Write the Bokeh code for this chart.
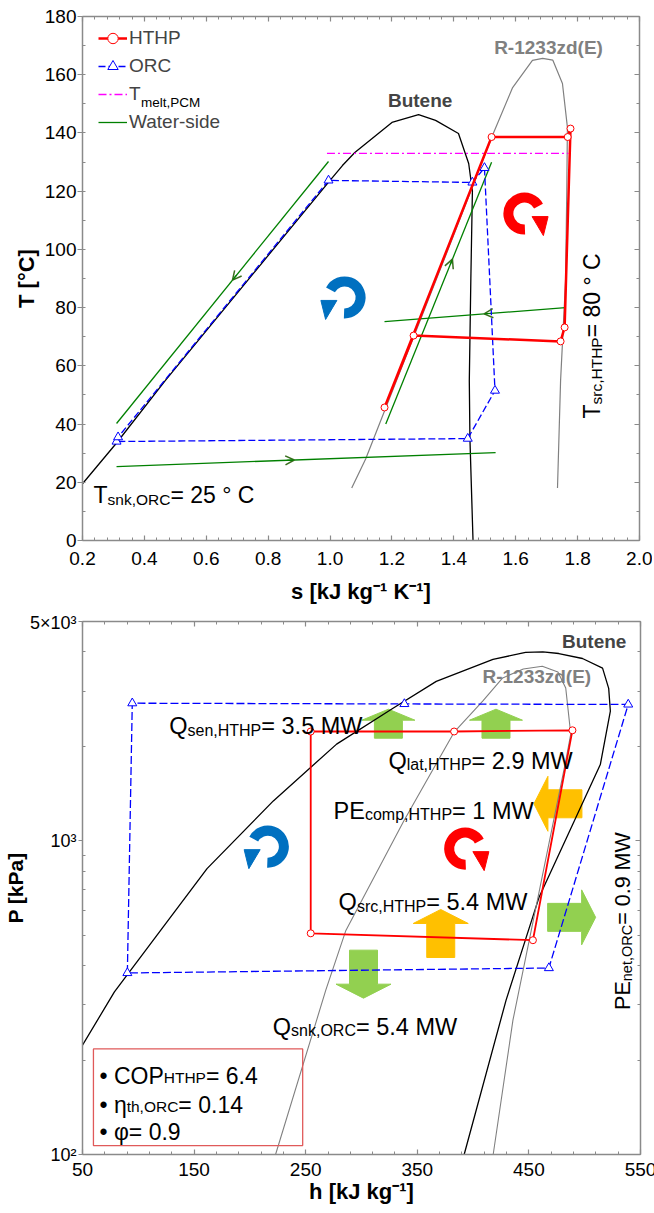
import math
from bokeh.plotting import figure
from bokeh.models import (LinearAxis, LogAxis, FixedTicker, Label, Legend, LegendItem,
                          Arrow, OpenHead, BoxAnnotation, PrintfTickFormatter,
                          CustomJSTickFormatter)
from bokeh.layouts import column
from bokeh.embed import file_html
from bokeh.resources import INLINE

FONT = "Liberation Sans"

# ------------------------------------------------------------------ T-s data
ts_butene_s = [0.20, 0.31, 0.468, 0.70, 1.00, 1.04, 1.08, 1.20, 1.286, 1.341, 1.415, 1.448, 1.46, 1.455, 1.45, 1.452, 1.462]
ts_butene_T = [19.5, 33.5, 55.0, 85.0, 123.7, 128.8, 133.3, 143.6, 146.3, 144.3, 139.8, 129.5, 120.0, 90.0, 55.0, 35.0, 0.0]

ts_r1233_s = [1.07, 1.115, 1.176, 1.30, 1.40, 1.522, 1.59, 1.654, 1.687, 1.72, 1.751, 1.767, 1.765, 1.761, 1.745, 1.735]
ts_r1233_T = [18.0, 28.0, 44.5, 78.0, 105.0, 138.4, 155.6, 164.9, 165.6, 165.0, 157.0, 142.0, 120.0, 89.0, 55.0, 18.0]

ts_hthp_s = [1.176, 1.27, 1.745, 1.758, 1.777, 1.768, 1.522, 1.176]
ts_hthp_T = [45.7, 70.4, 68.4, 73.2, 141.5, 138.6, 138.6, 45.7]

ts_orc_s = [0.31, 0.315, 0.995, 1.46, 1.499, 1.533, 1.445, 0.31]
ts_orc_T = [34.0, 35.5, 123.7, 123.0, 128.0, 51.5, 35.0, 34.0]

ts_tmelt_s = [0.99, 1.77]
ts_tmelt_T = [133.0, 133.0]

# water-side streams: ORC source, ORC sink, HTHP sink, HTHP source
ts_water_s = [[0.31, 0.995], [0.31, 1.535], [1.18, 1.522], [1.176, 1.761]]
ts_water_T = [[40.2, 130.2], [25.4, 30.2], [40.0, 129.9], [75.2, 80.0]]
ts_water_arrow_frac = [0.547, 0.469, 0.63, 0.55]
ts_water_arrow_dir = [-1, 1, 1, -1]

ts_xticks = [0.2, 0.4, 0.6, 0.8, 1.0, 1.2, 1.4, 1.6, 1.8, 2.0]
ts_yticks = [0, 20, 40, 60, 80, 100, 120, 140, 160, 180]

# ------------------------------------------------------------------ P-h data
ph_butene_h = [50, 78.6, 120, 161.6, 221, 277.7, 328.6, 367, 417.8, 447, 462.5, 476.8, 498, 516, 521.5, 523, 514, 492, 459, 429.5, 392]
ph_butene_P = [223, 330, 518, 815, 1340, 2033, 2650, 3221, 3786, 3985, 4000, 3953, 3811, 3550, 3061, 2589, 1750, 1184, 659, 310, 100]

ph_r1233_h = [223, 268, 286, 338, 383, 408.6, 426.5, 445, 462, 476, 483, 487.5, 483, 459.6, 435.7, 418]
ph_r1233_P = [100, 334, 518, 1159, 2219, 2787, 3304, 3530, 3600, 3450, 3069, 2188, 1795, 700, 268, 100]

ph_hthp_h = [254.5, 254.5, 383, 489, 453.6, 254.5]
ph_hthp_P = [507, 2230, 2230, 2250, 482, 507]

ph_orc_h = [90.2, 94.6, 338.4, 539, 467.9, 90.2]
ph_orc_P = [379, 2745, 2730, 2720, 393, 379]

# heat / power flow arrows (tip position, direction, kind)
flow_h = [324.1, 420.5, 454.5, 371.0, 509.8, 301.8]
flow_P = [2627, 2627, 1312, 604, 570, 315]
flow_dir = ["up", "up", "left", "up", "right", "down"]
flow_kind = ["heat", "heat", "work", "work", "heat", "heat"]

ph_xticks = [50, 150, 250, 350, 450, 550]
ph_yticks = [100, 1000, 5000]
ph_ytick_labels = {100: "10²", 1000: "10³", 5000: "5×10³"}

# ------------------------------------------------------------------ styles
RED = "#FF0000"
BLUE = "#0000FF"
GREEN = "#008000"
ARROW_GREEN = "#3a6e1e"
MAGENTA = "#FF00FF"
GRAY = "#808080"
ROT_BLUE = "#0070C0"
FILL_GREEN = "#92D050"
FILL_ORANGE = "#FFC000"
AXIS_GRAY = "#8a8a8a"
BOX_RED = "#E05A5A"

# Arial / Liberation Sans advance widths (per 1000 em)
_W = {' ': 278, ',': 278, '.': 278, '-': 333, '=': 584, '°': 400, '•': 350, '(': 333, ')': 333,
      'A': 667, 'B': 667, 'C': 722, 'D': 722, 'E': 667, 'F': 611, 'G': 778, 'H': 722, 'I': 278,
      'J': 500, 'K': 667, 'L': 556, 'M': 833, 'N': 722, 'O': 778, 'P': 667, 'Q': 778, 'R': 722,
      'S': 667, 'T': 611, 'U': 722, 'V': 667, 'W': 944,
      'a': 556, 'b': 556, 'c': 500, 'd': 556, 'e': 556, 'f': 278, 'g': 556, 'h': 556, 'i': 222,
      'j': 222, 'k': 500, 'l': 222, 'm': 833, 'n': 556, 'o': 556, 'p': 556, 'q': 556, 'r': 333,
      's': 500, 't': 278, 'u': 556, 'v': 500, 'w': 722, 'x': 500, 'y': 500, 'z': 500,
      'η': 556, 'φ': 650}


def tw(text, size):
    return sum(_W.get(c, 556) for c in text) * size / 1000.0


def rich(p, x, y, parts, angle=0.0, color="black", x_units="data", y_units="data"):
    off = 0.0
    for text, size, shift in parts:
        if angle == 0:
            xo, yo = off, -shift
        else:
            xo, yo = shift, off
        p.add_layout(Label(x=x, y=y, x_units=x_units, y_units=y_units, text=text,
                           x_offset=xo, y_offset=yo, angle=angle, text_font=FONT,
                           text_font_size=f"{size}px", text_color=color,
                           text_baseline="alphabetic", text_align="left"))
        off += tw(text, size)


def style_axis(ax, tick_out, tick_in, minor_out, minor_in, labels=True, standoff=0, size="19px"):
    ax.axis_line_color = AXIS_GRAY
    ax.axis_line_width = 1.5
    ax.major_tick_line_color = AXIS_GRAY
    ax.minor_tick_line_color = AXIS_GRAY
    ax.major_tick_line_width = 1.2
    ax.minor_tick_line_width = 1.0
    ax.major_tick_out = tick_out
    ax.major_tick_in = tick_in
    ax.minor_tick_out = minor_out
    ax.minor_tick_in = minor_in
    ax.major_label_standoff = standoff
    ax.major_label_text_font = FONT
    ax.major_label_text_color = "black"
    if labels:
        ax.major_label_text_font_size = size
    else:
        ax.major_label_text_font_size = "0px"
        ax.formatter = CustomJSTickFormatter(code="return '';")
    ax.axis_label_text_font = FONT
    ax.axis_label_text_font_style = "bold"
    ax.axis_label_text_font_size = "22px"
    ax.axis_label_text_color = "black"


# =================================================================== T-s plot
FW1, FH1 = 557, 524
p1 = figure(frame_width=FW1, frame_height=FH1, x_range=(0.2, 2.0), y_range=(0, 180),
            output_backend="svg", toolbar_location=None,
            min_border_left=77, min_border_right=18, min_border_top=16, min_border_bottom=72)
p1.xgrid.visible = False
p1.ygrid.visible = False
p1.outline_line_color = None
p1.background_fill_color = "white"
p1.border_fill_color = "white"

TS_SX = 1.8 / FW1
TS_TY = 180.0 / FH1


def ts_off(s, T, dx, dy):
    return s + dx * TS_SX, T + dy * TS_TY


xt1 = FixedTicker(ticks=ts_xticks, minor_ticks=[round(0.2 + 0.04 * k, 3) for k in range(46)])
yt1 = FixedTicker(ticks=ts_yticks, minor_ticks=list(range(0, 181, 10)))
p1.xaxis[0].ticker = xt1
p1.yaxis[0].ticker = yt1
p1.xaxis[0].formatter = PrintfTickFormatter(format="%.1f")
p1.xaxis[0].axis_label = "s [kJ kg⁻¹ K⁻¹]"
p1.yaxis[0].axis_label = "T [°C]"
style_axis(p1.xaxis[0], 0, 5, 0, 3, standoff=11)
style_axis(p1.yaxis[0], 5, 0, 0, 3, standoff=1)
p1.xaxis[0].axis_label_standoff = 11
p1.yaxis[0].axis_label_standoff = 3
ax_top1 = LinearAxis(ticker=FixedTicker(ticks=ts_xticks, minor_ticks=xt1.minor_ticks))
ax_right1 = LinearAxis(ticker=FixedTicker(ticks=ts_yticks, minor_ticks=yt1.minor_ticks))
style_axis(ax_top1, 0, 5, 0, 3, labels=False)
style_axis(ax_right1, 0, 5, 0, 3, labels=False)
p1.add_layout(ax_top1, "above")
p1.add_layout(ax_right1, "right")

# saturation domes
p1.line(ts_butene_s, ts_butene_T, line_color="black", line_width=1.3)
p1.line(ts_r1233_s, ts_r1233_T, line_color=GRAY, line_width=1.2)

# water side
water_renderers = []
for xs, ys, frac, d in zip(ts_water_s, ts_water_T, ts_water_arrow_frac, ts_water_arrow_dir):
    r = p1.line(xs, ys, line_color=GREEN, line_width=1.3)
    water_renderers.append(r)
    xm = xs[0] + frac * (xs[1] - xs[0])
    ym = ys[0] + frac * (ys[1] - ys[0])
    back = 0.02 * d
    xb = xm - back * (xs[1] - xs[0])
    yb = ym - back * (ys[1] - ys[0])
    p1.add_layout(Arrow(end=OpenHead(size=9, line_color=ARROW_GREEN, line_width=1.5),
                        x_start=xb, y_start=yb, x_end=xm, y_end=ym,
                        line_color=GREEN, line_width=1.3))

# T melt PCM
r_tm = p1.line(ts_tmelt_s, ts_tmelt_T, line_color=MAGENTA, line_width=1.3, line_dash="8 3 2 3")

# ORC
r_orc_l = p1.line(ts_orc_s, ts_orc_T, line_color=BLUE, line_width=1.3, line_dash="7 3")
r_orc_m = p1.scatter(ts_orc_s[:-1], ts_orc_T[:-1], marker="triangle", size=9,
                     fill_color="white", line_color=BLUE, line_width=1)
# HTHP
r_hthp_l = p1.line(ts_hthp_s, ts_hthp_T, line_color=RED, line_width=2.5)
r_hthp_m = p1.scatter(ts_hthp_s[:-1], ts_hthp_T[:-1], marker="circle", size=7,
                      fill_color="white", line_color=RED, line_width=1)

LEG_TOP = 8.5          # legend top, px below the frame top
LEG_ITEM = 26
LEG_GAP = 2
leg_h = 4 * LEG_ITEM + 3 * LEG_GAP
legend1 = Legend(items=[LegendItem(label="HTHP", renderers=[r_hthp_l, r_hthp_m]),
                        LegendItem(label="ORC", renderers=[r_orc_l, r_orc_m]),
                        LegendItem(label="T", renderers=[r_tm]),
                        LegendItem(label="Water-side", renderers=[water_renderers[0]])],
                 location=(16, FH1 - LEG_TOP - leg_h), glyph_width=29, glyph_height=LEG_ITEM,
                 label_height=LEG_ITEM, label_standoff=2, spacing=LEG_GAP, padding=0, margin=0,
                 border_line_color=None, background_fill_alpha=0,
                 label_text_font=FONT, label_text_font_size="19px")
p1.add_layout(legend1)
tm_center = LEG_TOP + LEG_ITEM / 2 + 2 * (LEG_ITEM + LEG_GAP)
rich(p1, 16 + 29 + 2 + tw("T", 19), FH1 - (tm_center + 5.9 + 3), [("melt,PCM", 13.5, 0)],
     x_units="screen", y_units="screen")


def rot_symbol(p, x, y, clockwise, color, off):
    if clockwise:
        a0, a1 = 28, 272
        head = [(7.7, -3), (23.7, -3), (19, -22)]
    else:
        a0, a1 = -92, 152
        head = [(-7.7, -3), (-23.7, -3), (-19, -22)]
    p.annular_wedge(x=[x], y=[y], inner_radius=11, outer_radius=21,
                    inner_radius_units="screen", outer_radius_units="screen",
                    start_angle=math.radians(a0), end_angle=math.radians(a1),
                    fill_color=color, line_color=None)
    pts = [off(x, y, dx, dy) for dx, dy in head]
    p.patch([q[0] for q in pts], [q[1] for q in pts], fill_color=color, line_color=color)


rot_symbol(p1, 1.047, 83.5, False, ROT_BLUE, ts_off)
rot_symbol(p1, 1.628, 112.3, True, RED, ts_off)

p1.add_layout(Label(x=1.291, y=151.1, text="Butene", text_font=FONT, text_font_style="bold",
                    text_font_size="19px", text_align="center", text_baseline="middle"))
p1.add_layout(Label(x=1.706, y=169.4, text="R-1233zd(E)", text_font=FONT, text_font_style="bold",
                    text_font_size="19px", text_align="center", text_baseline="middle",
                    text_color=GRAY))
rich(p1, 0.2355, 15.5, [("T", 23, 0), ("snk,ORC", 15.5, 4), ("= 25 ° C", 23, 0)])
rich(p1, 1.848, 41.9, [("T", 23, 0), ("src,HTHP", 15.5, 4), ("= 80 ° C", 23, 0)], angle=math.pi / 2)

# =================================================================== P-h plot
FW2, FH2 = 558, 533
p2 = figure(frame_width=FW2, frame_height=FH2, x_range=(50, 550), y_range=(100, 5000),
            y_axis_type="log", output_backend="svg", toolbar_location=None,
            min_border_left=77, min_border_right=17, min_border_top=9, min_border_bottom=56)
p2.xgrid.visible = False
p2.ygrid.visible = False
p2.outline_line_color = None
p2.background_fill_color = "white"
p2.border_fill_color = "white"

PH_HX = 500.0 / FW2
PH_LY = math.log10(50.0) / FH2


def ph_off(h, P, dx, dy):
    return h + dx * PH_HX, 10 ** (math.log10(P) + dy * PH_LY)


xt2 = FixedTicker(ticks=ph_xticks, minor_ticks=list(range(50, 551, 20)))
yminor = [200, 300, 400, 500, 600, 700, 800, 900, 2000, 3000, 4000]
yt2 = FixedTicker(ticks=ph_yticks, minor_ticks=yminor)
p2.xaxis[0].ticker = xt2
p2.yaxis[0].ticker = yt2
p2.yaxis[0].major_label_overrides = ph_ytick_labels
p2.xaxis[0].axis_label = "h [kJ kg⁻¹]"
p2.yaxis[0].axis_label = "P [kPa]"
style_axis(p2.xaxis[0], 0, 5, 0, 3, standoff=8)
style_axis(p2.yaxis[0], 4, 0, 0, 3, standoff=2, size="18px")
p2.xaxis[0].axis_label_standoff = 0
p2.yaxis[0].axis_label_standoff = 0
p2.yaxis[0].axis_label_text_font_size = "21px"
ax_top2 = LinearAxis(ticker=FixedTicker(ticks=ph_xticks, minor_ticks=xt2.minor_ticks))
ax_right2 = LogAxis(ticker=FixedTicker(ticks=ph_yticks, minor_ticks=yminor))
style_axis(ax_top2, 0, 5, 0, 3, labels=False)
style_axis(ax_right2, 0, 5, 0, 3, labels=False)
p2.add_layout(ax_top2, "above")
p2.add_layout(ax_right2, "right")

ARROW_SHAPE = {"heat": dict(L=29, hl=11, hw=53, sw=28), "work": dict(L=48, hl=14, hw=55, sw=28)}
ROT = {"up": 0, "left": 90, "down": 180, "right": -90}


def block_arrow(p, x, y, direction, shape, color):
    L, hl, hw, sw = shape["L"], shape["hl"], shape["hw"], shape["sw"]
    pts = [(0, 0), (hw / 2, -hl), (sw / 2, -hl), (sw / 2, -L), (-sw / 2, -L), (-sw / 2, -hl), (-hw / 2, -hl)]
    a = math.radians(ROT[direction])
    xs, ys = [], []
    for u, v in pts:
        ru = u * math.cos(a) - v * math.sin(a)
        rv = u * math.sin(a) + v * math.cos(a)
        qx, qy = ph_off(x, y, ru, rv)
        xs.append(qx)
        ys.append(qy)
    p.patch(xs, ys, fill_color=color, line_color=color, line_width=1)


for h, P, d, kind in zip(flow_h, flow_P, flow_dir, flow_kind):
    shape = ARROW_SHAPE["heat"] if (d == "up" and kind == "heat") else ARROW_SHAPE["work"]
    block_arrow(p2, h, P, d, shape, FILL_GREEN if kind == "heat" else FILL_ORANGE)

p2.line(ph_butene_h, ph_butene_P, line_color="black", line_width=1.3)
p2.line(ph_r1233_h, ph_r1233_P, line_color=GRAY, line_width=1.1)
p2.line(ph_orc_h, ph_orc_P, line_color=BLUE, line_width=1.3, line_dash="8 3")
p2.scatter(ph_orc_h[:-1], ph_orc_P[:-1], marker="triangle", size=9, fill_color="white",
           line_color=BLUE, line_width=1)
p2.line(ph_hthp_h, ph_hthp_P, line_color=RED, line_width=1.8)
p2.scatter(ph_hthp_h[:-1], ph_hthp_P[:-1], marker="circle", size=7, fill_color="white",
           line_color=RED, line_width=1)

rot_symbol(p2, 216.1, 957.8, False, ROT_BLUE, ph_off)
rot_symbol(p2, 392.9, 944.0, True, RED, ph_off)

p2.add_layout(Label(x=508.5, y=4319, text="Butene", text_font=FONT, text_font_style="bold",
                    text_font_size="19px", text_align="center", text_baseline="middle"))
p2.add_layout(Label(x=457.1, y=3345, text="R-1233zd(E)", text_font=FONT, text_font_style="bold",
                    text_font_size="19px", text_align="center", text_baseline="middle",
                    text_color=GRAY))

F, f, sh = 23.5, 16, 4
rich(p2, 127.7, 2320, [("Q", F, 0), ("sen,HTHP", f, sh), ("= 3.5 MW", F, 0)])
rich(p2, 324.1, 1797, [("Q", F, 0), ("lat,HTHP", f, sh), ("= 2.9 MW", F, 0)])
rich(p2, 275.0, 1246, [("PE", F, 0), ("comp,HTHP", f, sh), ("= 1 MW", F, 0)])
rich(p2, 279.5, 636, [("Q", F, 0), ("src,HTHP", f, sh), ("= 5.4 MW", F, 0)])
rich(p2, 220.5, 255, [("Q", F, 0), ("snk,ORC", f, sh), ("= 5.4 MW", F, 0)])
rich(p2, 533.9, 289, [("PE", 21.5, 0), ("net,ORC", 14.5, sh), ("= 0.9 MW", 21.5, 0)], angle=math.pi / 2)

p2.add_layout(BoxAnnotation(left=59.8, right=247.3, bottom=106.8, top=217.1,
                            fill_alpha=0, line_alpha=1.0, line_color=BOX_RED, line_width=1.3))
FB, fb = 23, 15.5
rich(p2, 65.2, 178.2, [("• COP", FB, 0), ("HTHP", fb, 2), ("= 6.4", FB, 0)])
rich(p2, 65.2, 144.2, [("• η", FB, 0), ("th,ORC", fb, 2), ("= 0.14", FB, 0)])
rich(p2, 65.2, 118.3, [("• φ= 0.9", FB, 0)])

layout = column(p1, p2, spacing=0)
open("out.html", "w").write(file_html(layout, INLINE))
